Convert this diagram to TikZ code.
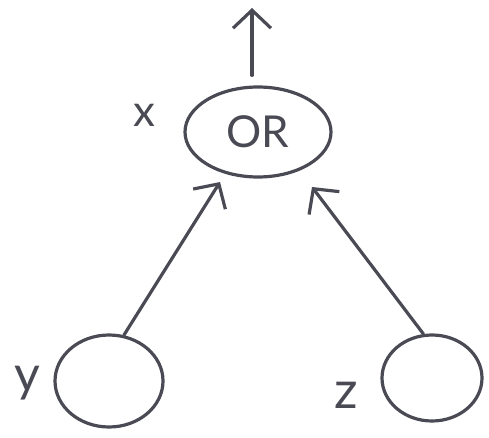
\documentclass[tikz,border=0pt]{standalone}
\usepackage{fontspec}
\setsansfont{Lato}
\usetikzlibrary{arrows.meta,shapes.geometric}
\definecolor{ink}{HTML}{4A4A55}
\begin{document}
\begin{tikzpicture}[x=1pt,y=-1pt,
  pen/.style={draw=ink,line width=3.2pt,line cap=round,line join=round},
  arr/.style={pen,-{Straight Barb[length=18pt,width=38pt,line width=3.2pt]}},
  blob/.style={pen,ellipse,inner sep=0pt},
  lbl/.style={text=ink,font=\sffamily\fontsize{44}{44}\selectfont,inner sep=0pt}]
\useasboundingbox (0,0) rectangle (489,438);
\node[blob,minimum width=146pt,minimum height=90pt,lbl] (or) at (258,132) {OR};
\node[blob,minimum width=108pt,minimum height=92pt] (y) at (109,381) {};
\node[blob,minimum width=100pt,minimum height=86pt] (z) at (432,378) {};
\node[lbl] (xl) at (144,115) {x};
\node[lbl,font=\sffamily\fontsize{50}{50}\selectfont] (yl) at (27,383) {y};
\node[lbl,font=\sffamily\fontsize{52}{52}\selectfont] (zl) at (346,395) {z};
\coordinate (out) at (252,8);
\coordinate (hl) at (220,182);
\coordinate (hr) at (312,187);
\draw[arr] ([xshift=-6pt,yshift=10pt]or.north) -- (out);
\draw[arr] (y.72) -- (hl);
\draw[arr] (z.101) -- (hr);
\end{tikzpicture}
\end{document}
